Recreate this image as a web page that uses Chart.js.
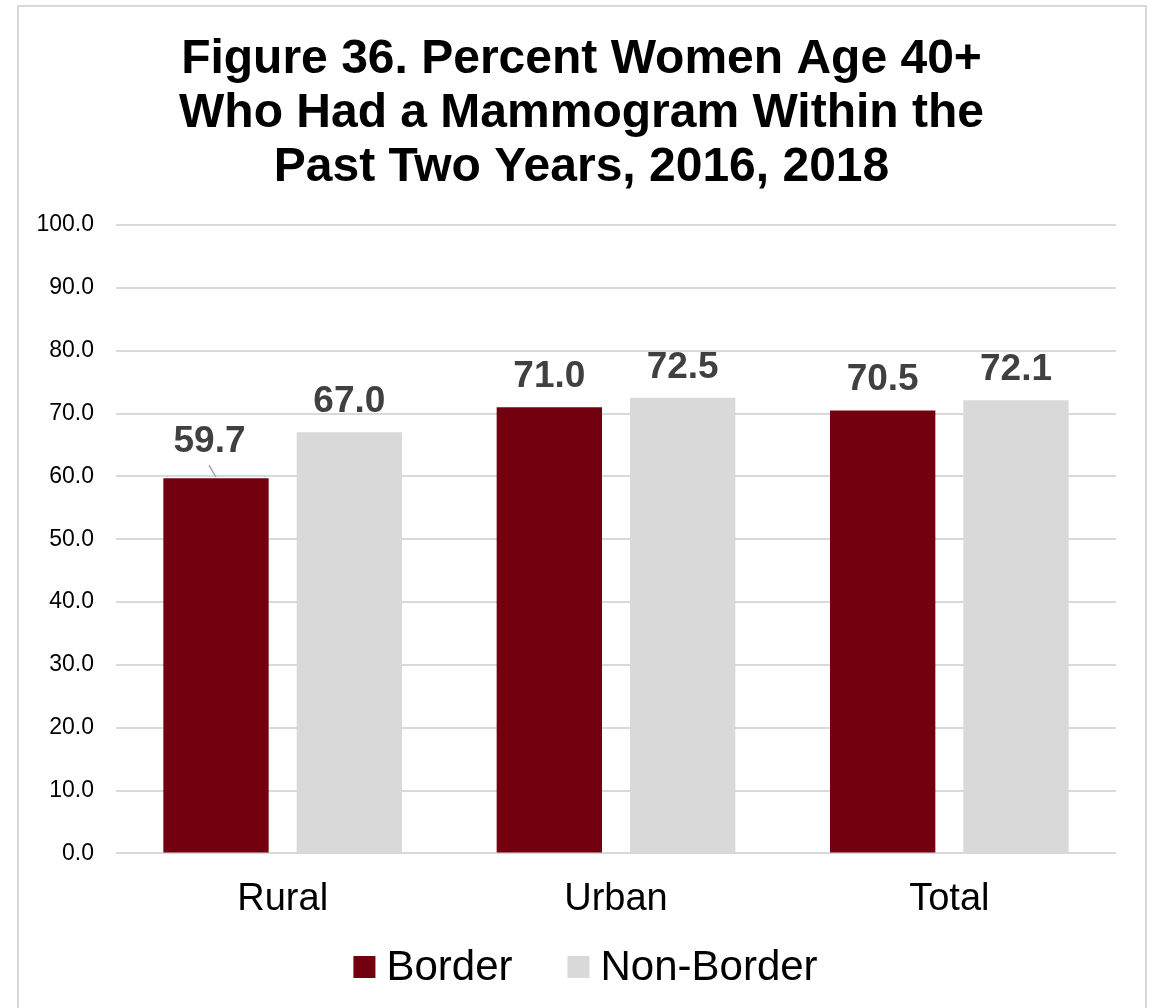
<!DOCTYPE html>
<html>
<head>
<meta charset="utf-8">
<script src="https://cdn.jsdelivr.net/npm/chart.js@4"></script>
<style>
html,body{margin:0;padding:0;background:#fff;}
#wrap{position:relative;width:1155px;height:1008px;}
</style>
</head>
<body>
<div id="wrap"><canvas id="c" width="1155" height="1008"></canvas></div>
<script>
const categories = ["Rural", "Urban", "Total"];
const seriesNames = ["Border", "Non-Border"];
const borderValues = [59.7, 71.0, 70.5];
const nonBorderValues = [67.0, 72.5, 72.1];
const yTicks = [0, 10, 20, 30, 40, 50, 60, 70, 80, 90, 100];
const titleLines = ["Figure 36. Percent Women Age 40+", "Who Had a Mammogram Within the", "Past Two Years, 2016, 2018"];

const FONT = "'Liberation Sans', Arial, sans-serif";

const framePlugin = {
  id: 'frame',
  beforeDraw(chart) {
    const ctx = chart.ctx;
    ctx.save();
    ctx.fillStyle = '#fff';
    ctx.fillRect(0, 0, chart.width, chart.height);
    ctx.strokeStyle = '#d9d9d9';
    ctx.lineWidth = 2;
    ctx.beginPath();
    ctx.moveTo(18, 1010);
    ctx.lineTo(18, 6);
    ctx.lineTo(1146, 6);
    ctx.lineTo(1146, 1010);
    ctx.stroke();
    ctx.restore();
  }
};

const titlePlugin = {
  id: 'customTitle',
  afterDraw(chart) {
    const ctx = chart.ctx;
    ctx.save();
    ctx.font = "bold 48px " + FONT;
    ctx.fillStyle = '#000';
    ctx.textAlign = 'center';
    ctx.textBaseline = 'middle';
    titleLines.forEach((line, i) => {
      ctx.fillText(line, 581.5, 60 + i * 54);
    });
    ctx.restore();
  }
};

const labelPlugin = {
  id: 'valueLabels',
  afterDatasetsDraw(chart) {
    const ctx = chart.ctx;
    ctx.save();
    ctx.font = "bold 37px " + FONT;
    ctx.fillStyle = '#404040';
    ctx.textAlign = 'center';
    ctx.textBaseline = 'alphabetic';
    chart.data.datasets.forEach((ds, di) => {
      const meta = chart.getDatasetMeta(di);
      meta.data.forEach((el, i) => {
        const v = ds.data[i];
        const txt = v.toFixed(1);
        if (di === 0 && i === 0) {
          ctx.fillText(txt, el.x - 6.5, el.y - 26);
          ctx.strokeStyle = '#a6a6a6';
          ctx.lineWidth = 1.5;
          ctx.beginPath();
          ctx.moveTo(el.x - 7, el.y - 13);
          ctx.lineTo(el.x, el.y - 1);
          ctx.stroke();
        } else {
          ctx.fillText(txt, el.x, el.y - 20);
        }
      });
    });
    ctx.restore();
  }
};

const legendPlugin = {
  id: 'customLegend',
  afterDraw(chart) {
    const ctx = chart.ctx;
    ctx.save();
    ctx.font = "42px " + FONT;
    ctx.textBaseline = 'alphabetic';
    ctx.textAlign = 'left';
    const box = 22, gap = 11, itemGap = 55;
    const items = chart.data.datasets.map(ds => ({ label: ds.label, color: ds.backgroundColor, w: ctx.measureText(ds.label).width }));
    let total = 0;
    items.forEach((it, i) => { total += box + gap + it.w + (i < items.length - 1 ? itemGap : 0); });
    let x = 585.5 - total / 2;
    const baseline = 980;
    items.forEach(it => {
      ctx.fillStyle = it.color;
      ctx.fillRect(x, 956, box, box);
      ctx.fillStyle = '#000';
      ctx.fillText(it.label, x + box + gap, baseline);
      x += box + gap + it.w + itemGap;
    });
    ctx.restore();
  }
};

new Chart(document.getElementById('c'), {
  type: 'bar',
  data: {
    labels: categories,
    datasets: [
      { label: seriesNames[0], data: borderValues, backgroundColor: '#73000F', borderWidth: 0 },
      { label: seriesNames[1], data: nonBorderValues, backgroundColor: '#D9D9D9', borderWidth: 0 }
    ]
  },
  plugins: [framePlugin, labelPlugin, legendPlugin, titlePlugin],
  options: {
    responsive: false,
    animation: false,
    devicePixelRatio: 1,
    layout: { padding: { left: 30, right: 39, top: 225, bottom: 63 } },
    datasets: { bar: { categoryPercentage: 0.80, barPercentage: 0.79 } },
    scales: {
      x: {
        grid: { display: false, drawTicks: false },
        border: { display: false },
        ticks: { color: '#000', font: { family: FONT, size: 38 }, padding: 23 }
      },
      y: {
        min: 0, max: 100,
        afterFit(scale) { scale.width = 86; },
        afterBuildTicks(scale) { scale.ticks = yTicks.map(v => ({ value: v })); },
        grid: { color: '#d9d9d9', lineWidth: 2, drawTicks: false },
        border: { display: false },
        ticks: {
          color: '#000', padding: 22,
          font: { family: FONT, size: 23 },
          callback: v => Number(v).toFixed(1)
        }
      }
    },
    plugins: {
      title: { display: false },
      legend: { display: false },
      tooltip: { enabled: false }
    }
  }
});
</script>
</body>
</html>
